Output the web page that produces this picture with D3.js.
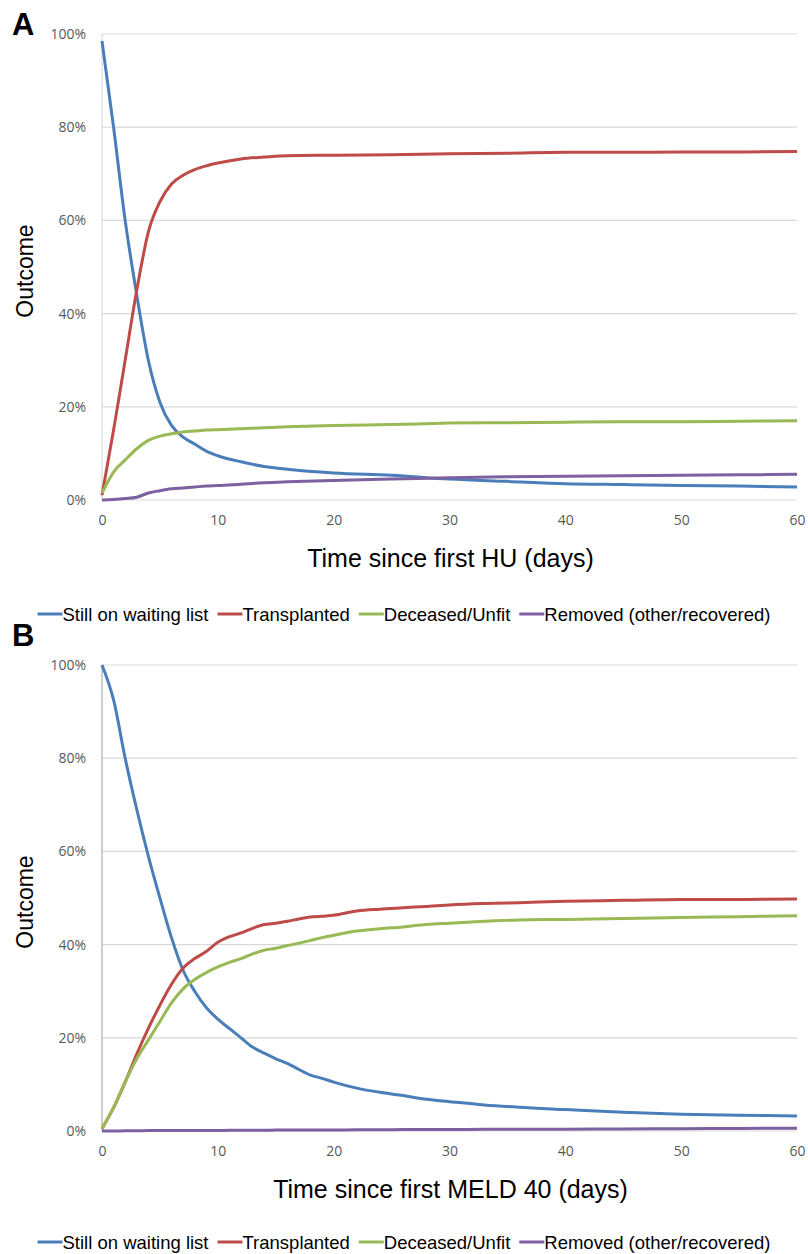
<!DOCTYPE html>
<html>
<head>
<meta charset="utf-8">
<script src="https://cdn.jsdelivr.net/npm/d3@7"></script>
<style>
  body { margin: 0; background: #fff; }
  .tick text { font-family: "Open Sans", sans-serif; font-size: 14px; fill: #595959; }
  .axisTitle { font-family: "Liberation Sans", Arial, sans-serif; font-size: 25px; fill: #000; }
  .yTitle { font-family: "Liberation Sans", Arial, sans-serif; font-size: 23px; fill: #000; }
  .legend text { font-family: "Liberation Sans", Arial, sans-serif; font-size: 18.5px; fill: #000; }
  .panelLetter { font-family: "Liberation Sans", Arial, sans-serif; font-weight: bold; font-size: 31px; }
</style>
</head>
<body>
<div class="chart"></div>
<script>
// Series names and colours
var seriesNames = ["Still on waiting list", "Transplanted", "Deceased/Unfit", "Removed (other/recovered)"];
var seriesColors = ["#4A7EBB", "#BE4B48", "#98B954", "#7D60A0"];
var yTicks = [0, 20, 40, 60, 80, 100];
var xTicks = [0, 10, 20, 30, 40, 50, 60];

// Panel A (days since first HU), values in %
var daysA = [0, 1, 2, 3, 4, 5, 6, 7, 8, 9, 10, 12, 14, 16, 20, 25, 30, 35, 40, 45, 50, 55, 60];
var waitingA =      [98.5, 80, 60, 44, 30, 21, 16, 13.5, 12, 10.5, 9.5, 8.2, 7.2, 6.6, 5.8, 5.3, 4.5, 4.0, 3.5, 3.3, 3.1, 3.0, 2.8];
var transplantedA = [1, 15, 30, 45, 57.5, 64, 67.8, 69.7, 70.9, 71.7, 72.3, 73.2, 73.6, 73.9, 74.0, 74.1, 74.3, 74.4, 74.6, 74.6, 74.7, 74.7, 74.8];
var deceasedA =     [1.5, 6, 8.6, 11, 12.8, 13.7, 14.2, 14.6, 14.8, 15.0, 15.1, 15.3, 15.5, 15.7, 16.0, 16.2, 16.5, 16.6, 16.7, 16.8, 16.8, 16.9, 17.0];
var removedA =      [0, 0.1, 0.3, 0.6, 1.5, 2.0, 2.4, 2.6, 2.8, 3.0, 3.1, 3.4, 3.7, 3.9, 4.2, 4.5, 4.8, 5.0, 5.1, 5.2, 5.3, 5.4, 5.5];

// Panel B (days since first MELD 40), values in %
var daysB = [0, 1, 2, 3, 4, 5, 6, 7, 8, 9, 10, 11, 12, 13, 14, 15, 16, 17, 18, 19, 20, 22, 24, 26, 28, 30, 33, 36, 40, 45, 50, 55, 60];
var waitingB =      [100, 92.5, 80, 69, 59, 50, 41.5, 34.5, 30, 26.5, 24, 22, 20, 18, 16.7, 15.5, 14.5, 13.2, 12, 11.3, 10.5, 9.2, 8.3, 7.6, 6.8, 6.3, 5.6, 5.1, 4.6, 4.0, 3.6, 3.4, 3.2];
var transplantedB = [0.5, 5, 10.5, 16.5, 22, 27, 31.5, 35, 37, 38.5, 40.5, 41.7, 42.5, 43.5, 44.3, 44.6, 45, 45.5, 45.9, 46.1, 46.3, 47.2, 47.6, 47.9, 48.2, 48.5, 48.8, 49.0, 49.3, 49.5, 49.7, 49.7, 49.8];
var deceasedB =     [0.5, 5, 10.5, 15.5, 19.5, 23.5, 27.5, 30.5, 32.5, 34, 35.2, 36.2, 37, 38, 38.8, 39.2, 39.8, 40.3, 40.9, 41.5, 42.0, 42.9, 43.4, 43.8, 44.3, 44.6, 45.0, 45.3, 45.4, 45.6, 45.8, 46.0, 46.2];
var removedB =      [0, 0, 0.05, 0.05, 0.1, 0.1, 0.1, 0.1, 0.1, 0.1, 0.1, 0.15, 0.15, 0.15, 0.15, 0.2, 0.2, 0.2, 0.2, 0.2, 0.2, 0.25, 0.25, 0.3, 0.3, 0.3, 0.35, 0.35, 0.4, 0.45, 0.5, 0.55, 0.6];

var svgWidth = 808;
var svgHeight = 1254;

var svg = d3.select(".chart")
  .append("svg")
  .attr("width", svgWidth)
  .attr("height", svgHeight);

function drawPanel(cfg) {
  var margin = { left: 102, right: 11 };
  var width = svgWidth - margin.left - margin.right;
  var height = cfg.bottom - cfg.top;

  var g = svg.append("g")
    .attr("transform", `translate(${margin.left}, ${cfg.top})`);

  var x = d3.scaleLinear().domain([0, 60]).range([0, width]);
  var y = d3.scaleLinear().domain([0, 100]).range([height, 0]);

  // gridlines
  g.append("g")
    .selectAll("line")
    .data(yTicks)
    .enter()
    .append("line")
    .attr("x1", 0)
    .attr("x2", width)
    .attr("y1", d => y(d))
    .attr("y2", d => y(d))
    .attr("stroke", "#d9d9d9")
    .attr("stroke-width", 1.2);

  // left axis line
  g.append("line")
    .attr("x1", 0).attr("x2", 0)
    .attr("y1", 0).attr("y2", height)
    .attr("stroke", cfg.axisColor)
    .attr("stroke-width", 1.5);

  var leftAxis = d3.axisLeft(y)
    .tickValues(yTicks)
    .tickSize(0)
    .tickPadding(16)
    .tickFormat(d => d + "%");
  g.append("g").call(leftAxis).call(a => a.select(".domain").remove());

  var bottomAxis = d3.axisBottom(x)
    .tickValues(xTicks)
    .tickSize(0)
    .tickPadding(15);
  g.append("g")
    .attr("transform", `translate(0, ${height})`)
    .call(bottomAxis)
    .call(a => a.select(".domain").remove());

  var line = d3.line()
    .x(d => x(d[0]))
    .y(d => y(d[1]))
    .curve(d3.curveMonotoneX);

  cfg.series.forEach(function (vals, i) {
    g.append("path")
      .datum(cfg.days.map((d, j) => [d, vals[j]]))
      .attr("fill", "none")
      .attr("stroke", seriesColors[i])
      .attr("stroke-width", 3)
      .attr("stroke-linejoin", "round")
      .attr("d", line);
  });

  // axis titles
  g.append("text")
    .attr("class", "axisTitle")
    .attr("text-anchor", "middle")
    .attr("x", width / 2 + 1)
    .attr("y", height + 67)
    .text(cfg.xTitle);

  g.append("text")
    .attr("class", "yTitle")
    .attr("text-anchor", "middle")
    .attr("transform", `translate(${-margin.left + 33}, ${height / 2 + 4}) rotate(-90)`)
    .text("Outcome");

  svg.append("text")
    .attr("class", "panelLetter")
    .attr("x", 12)
    .attr("y", cfg.letterY)
    .text(cfg.letter);

  // legend
  var legend = svg.append("g").attr("class", "legend");
  var xPos = 0;
  seriesNames.forEach(function (name, i) {
    var item = legend.append("g").attr("transform", `translate(${xPos}, 0)`);
    item.append("line")
      .attr("x1", 0).attr("x2", 25)
      .attr("y1", 0).attr("y2", 0)
      .attr("stroke", seriesColors[i])
      .attr("stroke-width", 3);
    var t = item.append("text")
      .attr("x", 25)
      .attr("y", 6.5)
      .text(name);
    xPos += 25 + t.node().getComputedTextLength() + 9;
  });
  var totalW = xPos - 9;
  legend.attr("transform", `translate(${(svgWidth - totalW) / 2}, ${cfg.legendY})`);
}

drawPanel({
  top: 34, bottom: 500, letter: "A", letterY: 35, axisColor: "#e0e0e0",
  days: daysA, series: [waitingA, transplantedA, deceasedA, removedA],
  xTitle: "Time since first HU (days)", legendY: 614
});

drawPanel({
  top: 665, bottom: 1131, letter: "B", letterY: 646, axisColor: "#bfbfbf",
  days: daysB, series: [waitingB, transplantedB, deceasedB, removedB],
  xTitle: "Time since first MELD 40 (days)", legendY: 1242
});
</script>
</body>
</html>
